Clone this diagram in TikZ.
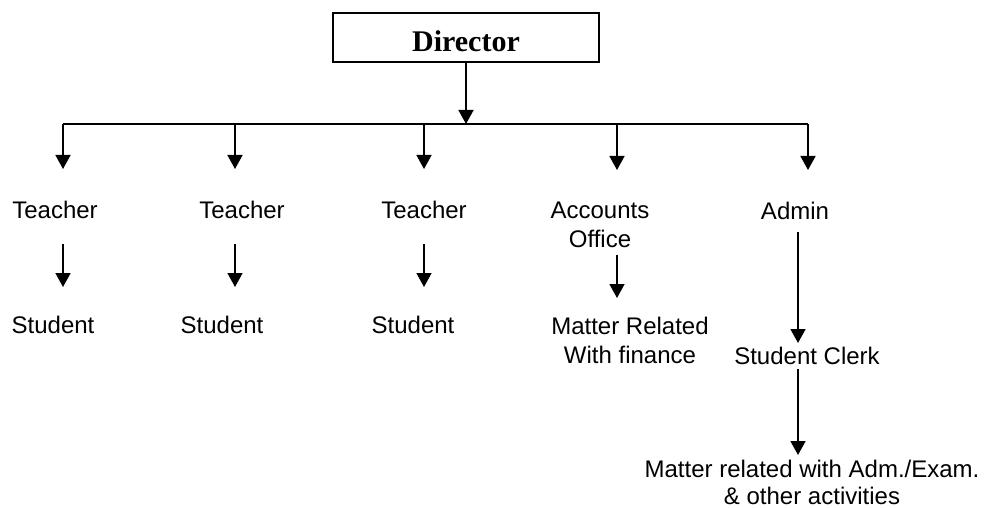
\documentclass[tikz,border=0pt]{standalone}
\usepackage{fontspec}
\setmainfont{Liberation Sans}
\newfontfamily\boxfont{Liberation Serif}
\usetikzlibrary{arrows.meta}
\tikzstyle{arr}=[-{Triangle[width=7.5pt,length=7pt]}, line width=0.8pt]
\tikzstyle{lbl}=[inner sep=0, anchor=north, align=center, font=\fontsize{12}{14.5}\selectfont]
\tikzstyle{head}=[draw, line width=0.75pt, minimum width=133pt, minimum height=24.5pt, inner sep=0, text height=14.5pt, text depth=0pt, font=\boxfont\bfseries\fontsize{15}{18}\selectfont]

\begin{document}
\begin{tikzpicture}[x=0.5pt, y=-0.5pt]
    \useasboundingbox (0,0) rectangle (991,508);
    % top box and the bus below it
    \node[head] (dir) at (466,37.5) {Director};
    \coordinate (hub) at (466,124);
    \draw[arr] (dir.south) -- (hub);
    \foreach \x [count=\i] in {63,235,424,617,808}
    \coordinate (d\i) at (\x,124);
    \draw[line width=0.9pt] (d1) -- (d5);

    % first row
    \node[lbl] (t1) at (55,201) {Teacher};
    \node[lbl] (t2) at (242,201) {Teacher};
    \node[lbl] (t3) at (424,201) {Teacher};
    \node[lbl] (acc) at (600,202) {Accounts\\Office};
    \node[lbl] (adm) at (795,202) {Admin};
    \foreach \n/\i in {t1/1, t2/2, t3/3, acc/4, adm/5}{
      \draw[arr, shorten >=16pt] (d\i) -- (\n.north -| d\i);
    }

    % second row
    \node[lbl] (s1) at (53,316) {Student};
    \node[lbl] (s2) at (222,316) {Student};
    \node[lbl] (s3) at (413,316) {Student};
    \foreach \i in {1,2,3}{
      \draw[arr, shorten <=12.5pt, shorten >=14.5pt] (t\i.south -| d\i) -- (s\i.north -| d\i);
    }
    \node[lbl] (fin) at (630,317) {Matter Related\\With finance};
    \draw[arr, shorten <=3pt, shorten >=9.5pt] (acc.south -| d4) -- (fin.north -| d4);

    % admin branch
    \coordinate (adx) at (798,230);
    \node[lbl] (clerk) at (807,347) {Student Clerk};
    \draw[arr, shorten <=6pt, shorten >=2pt] (adm.south -| adx) -- (clerk.north -| adx);
    \node[lbl, font=\fontsize{12}{13.5}\selectfont] (act) at (812,460) {Matter related with Adm./Exam.\\\& other activities};
    \draw[arr, shorten <=2pt, shorten >=2.5pt] (clerk.south -| adx) -- (act.north -| adx);
\end{tikzpicture}
\end{document}
